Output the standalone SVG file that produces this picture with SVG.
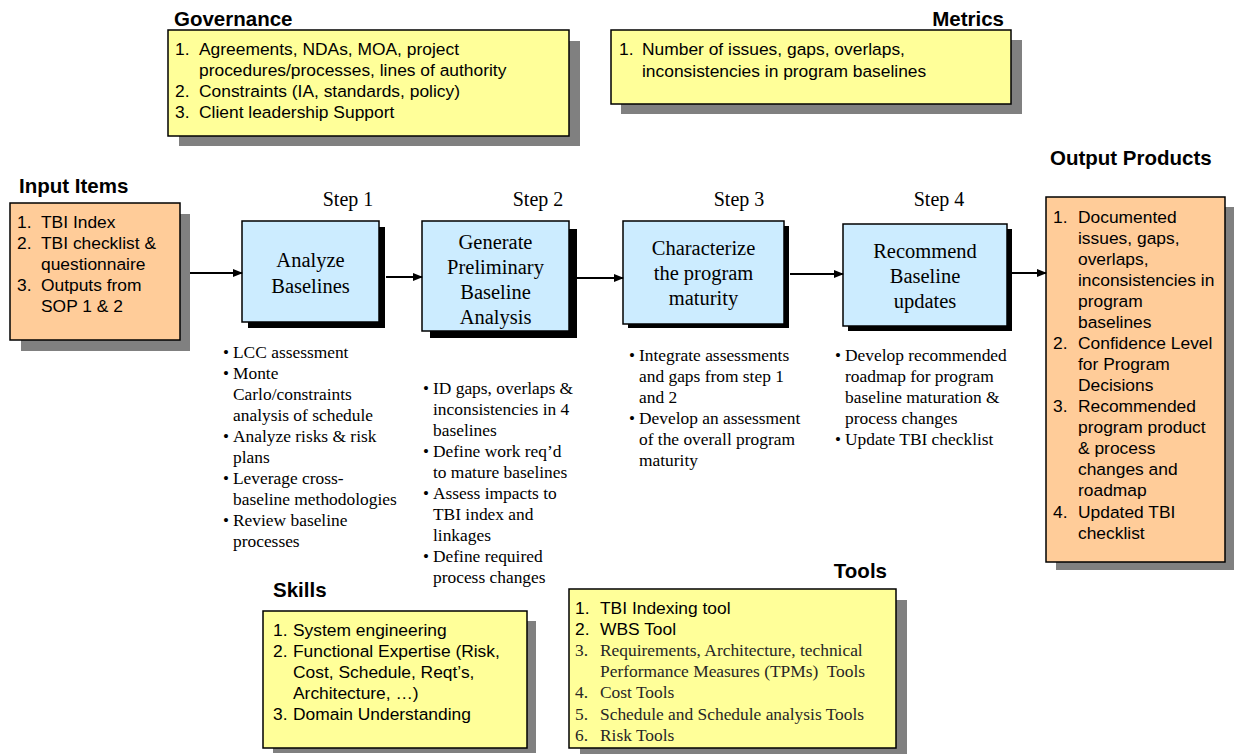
<svg xmlns="http://www.w3.org/2000/svg" width="1236" height="754" viewBox="0 0 1236 754">
  <style>
    .title { font-family: "Liberation Sans", Arial, sans-serif; font-weight: bold; font-size: 20.5px; fill: #000; }
    .sans { font-family: "Liberation Sans", Arial, sans-serif; font-size: 17.4px; fill: #000; }
    .serif { font-family: "Liberation Serif", "Times New Roman", serif; font-size: 17.4px; fill: #000; }
    .serif-gray { font-family: "Liberation Serif", "Times New Roman", serif; font-size: 17.4px; fill: #262626; }
    .step { font-family: "Liberation Serif", "Times New Roman", serif; font-size: 20px; fill: #000; text-anchor: middle; }
    .boxtext { font-family: "Liberation Serif", "Times New Roman", serif; font-size: 20.5px; fill: #000; text-anchor: middle; }
    .bullet { font-family: "Liberation Serif", "Times New Roman", serif; font-size: 17px; fill: #000; }
    .yellow { fill: #FFFF99; stroke: #000; stroke-width: 1.5; }
    .orange { fill: #FFCC99; stroke: #000; stroke-width: 1.5; }
    .blue { fill: #CCECFF; stroke: #000; stroke-width: 1.5; }
    .gshadow { fill: #808080; }
    .kshadow { fill: #000; }
    .conn { stroke: #000; stroke-width: 2; fill: none; }
  </style>
  <defs>
    <marker id="arrow" markerWidth="10" markerHeight="10" refX="9" refY="5" orient="auto" markerUnits="userSpaceOnUse">
      <path d="M0,1 L10,5 L0,9 Z" fill="#000"/>
    </marker>
  </defs>
  <rect width="1236" height="754" fill="#fff"/>

  <!-- Governance -->
  <g id="governance">
    <text class="title" x="174" y="26">Governance</text>
    <rect class="gshadow" x="179" y="41" width="401" height="105"/>
    <rect class="yellow" x="168" y="30" width="401" height="106"/>
    <text class="sans" x="175" y="55">1.</text>
    <text class="sans" x="199" y="55">Agreements, NDAs, MOA, project</text>
    <text class="sans" x="199" y="76">procedures/processes, lines of authority</text>
    <text class="sans" x="175" y="97">2.</text>
    <text class="sans" x="199" y="97">Constraints (IA, standards, policy)</text>
    <text class="sans" x="175" y="118">3.</text>
    <text class="sans" x="199" y="118">Client leadership Support</text>
  </g>

  <!-- Metrics -->
  <g id="metrics">
    <text class="title" x="1004" y="26" text-anchor="end">Metrics</text>
    <rect class="gshadow" x="621" y="40" width="401" height="74"/>
    <rect class="yellow" x="611" y="30" width="400" height="74"/>
    <text class="sans" x="619" y="55">1.</text>
    <text class="sans" x="642" y="55">Number of issues, gaps, overlaps,</text>
    <text class="sans" x="642" y="77">inconsistencies in program baselines</text>
  </g>

  <!-- Input Items -->
  <g id="input-items">
    <text class="title" x="19" y="193">Input Items</text>
    <rect class="gshadow" x="21" y="214" width="169" height="137"/>
    <rect class="orange" x="10" y="203" width="170" height="137"/>
    <text class="sans" x="17" y="228">1.</text>
    <text class="sans" x="41" y="228">TBI Index</text>
    <text class="sans" x="17" y="249">2.</text>
    <text class="sans" x="41" y="249">TBI checklist &amp;</text>
    <text class="sans" x="41" y="270">questionnaire</text>
    <text class="sans" x="17" y="291">3.</text>
    <text class="sans" x="41" y="291">Outputs from</text>
    <text class="sans" x="41" y="312">SOP 1 &amp; 2</text>
  </g>

  <!-- Step 1 -->
  <g id="step1">
    <text class="step" x="348" y="206">Step 1</text>
    <rect class="kshadow" x="248" y="227" width="137" height="101"/>
    <rect class="blue" x="242" y="221" width="137" height="101"/>
    <text class="boxtext" x="310.5" y="267">Analyze</text>
    <text class="boxtext" x="310.5" y="293">Baselines</text>
    <g>
      <text class="bullet" x="223" y="358">•</text><text class="serif" x="233" y="358">LCC assessment</text>
      <text class="bullet" x="223" y="379">•</text><text class="serif" x="233" y="379">Monte</text>
      <text class="serif" x="233" y="400">Carlo/constraints</text>
      <text class="serif" x="233" y="421">analysis of schedule</text>
      <text class="bullet" x="223" y="442">•</text><text class="serif" x="233" y="442">Analyze risks &amp; risk</text>
      <text class="serif" x="233" y="463">plans</text>
      <text class="bullet" x="223" y="484">•</text><text class="serif" x="233" y="484">Leverage cross-</text>
      <text class="serif" x="233" y="505">baseline methodologies</text>
      <text class="bullet" x="223" y="526">•</text><text class="serif" x="233" y="526">Review baseline</text>
      <text class="serif" x="233" y="547">processes</text>
    </g>
  </g>

  <!-- Step 2 -->
  <g id="step2">
    <text class="step" x="538" y="206">Step 2</text>
    <rect class="kshadow" x="430" y="229" width="147" height="109"/>
    <rect class="blue" x="422" y="221" width="147" height="110"/>
    <text class="boxtext" x="495.5" y="249">Generate</text>
    <text class="boxtext" x="495.5" y="274">Preliminary</text>
    <text class="boxtext" x="495.5" y="299">Baseline</text>
    <text class="boxtext" x="495.5" y="324">Analysis</text>
    <g>
      <text class="bullet" x="423" y="394">•</text><text class="serif" x="433" y="394">ID gaps, overlaps &amp;</text>
      <text class="serif" x="433" y="415">inconsistencies in 4</text>
      <text class="serif" x="433" y="436">baselines</text>
      <text class="bullet" x="423" y="457">•</text><text class="serif" x="433" y="457">Define work req’d</text>
      <text class="serif" x="433" y="478">to mature baselines</text>
      <text class="bullet" x="423" y="499">•</text><text class="serif" x="433" y="499">Assess impacts to</text>
      <text class="serif" x="433" y="520">TBI index and</text>
      <text class="serif" x="433" y="541">linkages</text>
      <text class="bullet" x="423" y="562">•</text><text class="serif" x="433" y="562">Define required</text>
      <text class="serif" x="433" y="583">process changes</text>
    </g>
  </g>

  <!-- Step 3 -->
  <g id="step3">
    <text class="step" x="739" y="206">Step 3</text>
    <rect class="kshadow" x="628" y="226" width="161" height="102"/>
    <rect class="blue" x="623" y="221" width="161" height="103"/>
    <text class="boxtext" x="703.5" y="255">Characterize</text>
    <text class="boxtext" x="703.5" y="280">the program</text>
    <text class="boxtext" x="703.5" y="305">maturity</text>
    <g>
      <text class="bullet" x="629" y="361">•</text><text class="serif" x="639" y="361">Integrate assessments</text>
      <text class="serif" x="639" y="382">and gaps from step 1</text>
      <text class="serif" x="639" y="403">and 2</text>
      <text class="bullet" x="629" y="424">•</text><text class="serif" x="639" y="424">Develop an assessment</text>
      <text class="serif" x="639" y="445">of the overall program</text>
      <text class="serif" x="639" y="466">maturity</text>
    </g>
  </g>

  <!-- Step 4 -->
  <g id="step4">
    <text class="step" x="939" y="206">Step 4</text>
    <rect class="kshadow" x="848" y="229" width="164" height="102"/>
    <rect class="blue" x="843" y="224" width="164" height="102"/>
    <text class="boxtext" x="925" y="258">Recommend</text>
    <text class="boxtext" x="925" y="283">Baseline</text>
    <text class="boxtext" x="925" y="308">updates</text>
    <g>
      <text class="bullet" x="835" y="361">•</text><text class="serif" x="845" y="361">Develop recommended</text>
      <text class="serif" x="845" y="382">roadmap for program</text>
      <text class="serif" x="845" y="403">baseline maturation &amp;</text>
      <text class="serif" x="845" y="424">process changes</text>
      <text class="bullet" x="835" y="445">•</text><text class="serif" x="845" y="445">Update TBI checklist</text>
    </g>
  </g>

  <!-- Output Products -->
  <g id="output-products">
    <text class="title" x="1050" y="165">Output Products</text>
    <rect class="gshadow" x="1056" y="207" width="178" height="363"/>
    <rect class="orange" x="1046" y="197" width="179" height="365"/>
    <text class="sans" x="1053" y="223">1.</text>
    <text class="sans" x="1078" y="223">Documented</text>
    <text class="sans" x="1078" y="244">issues, gaps,</text>
    <text class="sans" x="1078" y="265">overlaps,</text>
    <text class="sans" x="1078" y="286">inconsistencies in</text>
    <text class="sans" x="1078" y="307">program</text>
    <text class="sans" x="1078" y="328">baselines</text>
    <text class="sans" x="1053" y="349">2.</text>
    <text class="sans" x="1078" y="349">Confidence Level</text>
    <text class="sans" x="1078" y="370">for Program</text>
    <text class="sans" x="1078" y="391">Decisions</text>
    <text class="sans" x="1053" y="412">3.</text>
    <text class="sans" x="1078" y="412">Recommended</text>
    <text class="sans" x="1078" y="433">program product</text>
    <text class="sans" x="1078" y="454">&amp; process</text>
    <text class="sans" x="1078" y="475">changes and</text>
    <text class="sans" x="1078" y="496">roadmap</text>
    <text class="sans" x="1053" y="518">4.</text>
    <text class="sans" x="1078" y="518">Updated TBI</text>
    <text class="sans" x="1078" y="539">checklist</text>
  </g>

  <!-- Skills -->
  <g id="skills">
    <text class="title" x="273" y="597">Skills</text>
    <rect class="gshadow" x="273" y="621" width="263" height="132"/>
    <rect class="yellow" x="263" y="611" width="264" height="137"/>
    <text class="sans" x="273" y="636">1.</text>
    <text class="sans" x="293" y="636">System engineering</text>
    <text class="sans" x="273" y="657">2.</text>
    <text class="sans" x="293" y="657">Functional Expertise (Risk,</text>
    <text class="sans" x="293" y="678">Cost, Schedule, Reqt’s,</text>
    <text class="sans" x="293" y="699">Architecture, …)</text>
    <text class="sans" x="273" y="720">3.</text>
    <text class="sans" x="293" y="720">Domain Understanding</text>
  </g>

  <!-- Tools -->
  <g id="tools">
    <text class="title" x="887" y="578" text-anchor="end">Tools</text>
    <rect class="gshadow" x="580" y="600" width="327" height="154"/>
    <rect class="yellow" x="569" y="589" width="327" height="159"/>
    <text class="sans" x="575" y="614">1.</text>
    <text class="sans" x="600" y="614">TBI Indexing tool</text>
    <text class="sans" x="575" y="635">2.</text>
    <text class="sans" x="600" y="635">WBS Tool</text>
    <text class="serif-gray" x="575" y="656">3.</text>
    <text class="serif-gray" x="600" y="656">Requirements, Architecture, technical</text>
    <text class="serif-gray" x="600" y="677">Performance Measures (TPMs)&#160; Tools</text>
    <text class="serif-gray" x="575" y="698">4.</text>
    <text class="serif-gray" x="600" y="698">Cost Tools</text>
    <text class="serif-gray" x="575" y="720">5.</text>
    <text class="serif-gray" x="600" y="720">Schedule and Schedule analysis Tools</text>
    <text class="serif-gray" x="575" y="741">6.</text>
    <text class="serif-gray" x="600" y="741">Risk Tools</text>
  </g>

  <!-- Connectors -->
  <g id="connectors">
    <line class="conn" x1="190" y1="273" x2="242" y2="273" marker-end="url(#arrow)"/>
    <line class="conn" x1="386" y1="277" x2="422" y2="277" marker-end="url(#arrow)"/>
    <line class="conn" x1="577" y1="278" x2="623" y2="278" marker-end="url(#arrow)"/>
    <line class="conn" x1="790" y1="274" x2="843" y2="274" marker-end="url(#arrow)"/>
    <line class="conn" x1="1012" y1="273" x2="1046" y2="273" marker-end="url(#arrow)"/>
  </g>
</svg>
